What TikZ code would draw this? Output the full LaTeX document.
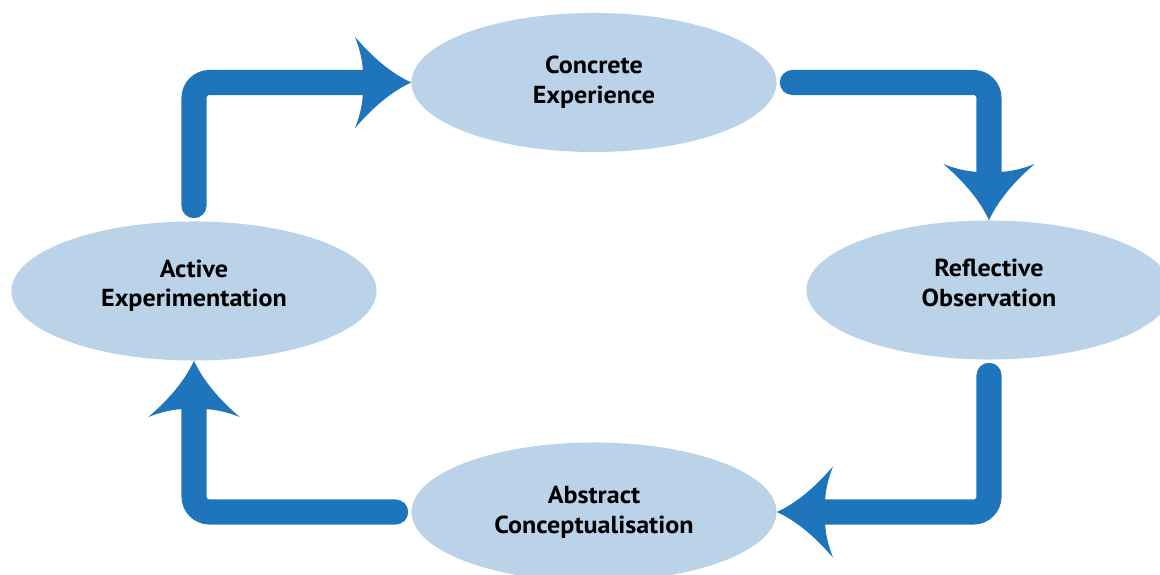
\documentclass[tikz,border=0pt]{standalone}
\usepackage{fontspec}
\setmainfont[FakeStretch=1.06]{PT Sans}
\usetikzlibrary{arrows.meta,shapes.geometric}

\definecolor{cycleblue}{RGB}{30,117,188}
\definecolor{stagefill}{RGB}{187,211,232}

% swept-back head, filled in the line colour
\pgfdeclarearrow{
  name = Swept,
  parameters = {\the\pgfarrowlength,\the\pgfarrowwidth},
  setup code = {
    \pgfarrowssettipend{0pt}
    \pgfarrowssetlineend{-.75\pgfarrowlength}
    \pgfarrowssetbackend{-\pgfarrowlength}
    \pgfarrowssavethe\pgfarrowlength
    \pgfarrowssavethe\pgfarrowwidth
  },
  drawing code = {
    \pgfpathmoveto{\pgfpointorigin}
    \pgfpathcurveto{\pgfpoint{-.35\pgfarrowlength}{.10\pgfarrowwidth}}
                   {\pgfpoint{-.68\pgfarrowlength}{.27\pgfarrowwidth}}
                   {\pgfpoint{-\pgfarrowlength}{.5\pgfarrowwidth}}
    \pgfpathcurveto{\pgfpoint{-.92\pgfarrowlength}{.38\pgfarrowwidth}}
                   {\pgfpoint{-.87\pgfarrowlength}{.25\pgfarrowwidth}}
                   {\pgfpoint{-.86\pgfarrowlength}{.14\pgfarrowwidth}}
    \pgfpathlineto{\pgfpoint{-.86\pgfarrowlength}{-.14\pgfarrowwidth}}
    \pgfpathcurveto{\pgfpoint{-.87\pgfarrowlength}{-.25\pgfarrowwidth}}
                   {\pgfpoint{-.92\pgfarrowlength}{-.38\pgfarrowwidth}}
                   {\pgfpoint{-\pgfarrowlength}{-.5\pgfarrowwidth}}
    \pgfpathcurveto{\pgfpoint{-.68\pgfarrowlength}{-.27\pgfarrowwidth}}
                   {\pgfpoint{-.35\pgfarrowlength}{-.10\pgfarrowwidth}}
                   {\pgfpointorigin}
    \pgfpathclose
    \pgfusepathqfill
  },
  defaults = {length = 40pt, width = 65pt}
}

\tikzset{
  stage/.style={ellipse, fill=stagefill, inner sep=0pt,
    minimum width=9.125cm, minimum height=3.475cm, align=center,
    font=\fontsize{17.5}{21.3}\selectfont\bfseries},
  lifted/.style={text depth=11pt},
  cycle/.style={cycleblue, line width=17.8pt, line cap=round,
    rounded corners=11pt, shorten <=11pt,
    -{Swept[length=40pt,width=65pt]}}
}

\begin{document}
\begin{tikzpicture}[x=0.025cm, y=0.025cm]
  \useasboundingbox (0,0) rectangle (1160,574);
  \node[stage] (conc) at (594,491.5) {Concrete\\Experience};
  \node[stage, lifted] (refl) at (989,284) {Reflective\\Observation};
  \node[stage] (abst) at (594,62) {Abstract\\Conceptualisation};
  \node[stage, lifted] (act) at (194,283) {Active\\Experimentation};
  % the four legs of the cycle, clockwise
  \draw[cycle] (act.north) |- (conc.west);
  \draw[cycle] (conc.east) -| (refl.north);
  \draw[cycle] (refl.south) |- (abst.east);
  \draw[cycle] (abst.west) -| (act.south);
\end{tikzpicture}
\end{document}
